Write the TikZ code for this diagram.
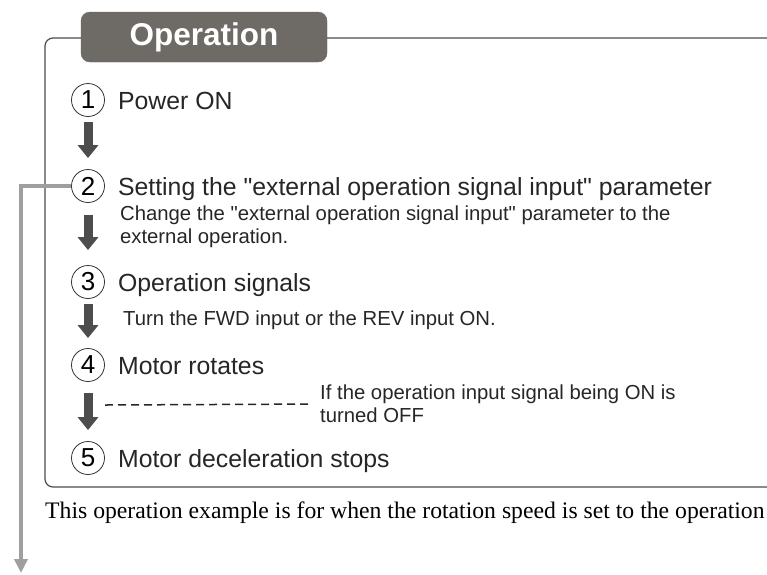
\documentclass[tikz,border=0pt]{standalone}
\usepackage{fontspec}
\setmainfont{Liberation Serif}
\setsansfont{Liberation Sans}[Ligatures=TeXOff]
\usetikzlibrary{positioning,arrows.meta}
\definecolor{tabgray}{HTML}{6E6A66}
\definecolor{inkgray}{HTML}{4D4D4D}
\tikzstyle{numcircle}+=[circle,draw=black!80,line width=0.8pt,minimum size=33pt,inner sep=0pt,font=\sffamily\fontsize{26}{26}\selectfont]
\tikzstyle{bigtext}+=[inner sep=0pt,text height=18pt,text depth=0pt,font=\sffamily\fontsize{24.8}{29}\selectfont,text=black!85]
\tikzstyle{subtext}+=[inner sep=0pt,align=left,font=\sffamily\fontsize{20.3}{23}\selectfont,text=black!85]
\tikzstyle{flowarrow}+=[draw=inkgray,line width=9pt,-{Triangle[length=13pt,width=20pt]}]
\tikzstyle{sidearrow}+=[draw=gray!75,line width=3.5pt,-{Triangle[length=14pt,width=13pt]}]
\tikzstyle{boxline}+=[draw=black!70,line width=1.2pt,rounded corners=8pt]
\tikzstyle{noteline}+=[draw=black!85,line width=1.5pt,dash pattern=on 8pt off 5pt]
\tikzstyle{headtab}+=[rounded corners=9pt,fill=tabgray,draw=black!60,minimum width=246pt,minimum height=50pt,text=white,font=\sffamily\bfseries\fontsize{31.5}{31.5}\selectfont]

\begin{document}
\begin{tikzpicture}[x=1pt,y=-1pt]
  \useasboundingbox (0,0) rectangle (767,574);
  \draw[boxline] (780,38) -- (45,38) -- (45,487) -- (780,487);
  \node[headtab] (head) at (204,37) {Operation};
  \node[numcircle] (s1) at (88,100) {1};
  \node[numcircle] (s2) at (88,186) {2};
  \node[numcircle] (s3) at (88,282) {3};
  \node[numcircle] (s4) at (88,365) {4};
  \node[numcircle] (s5) at (88,458) {5};
  \node[bigtext,right=13pt of s1] (t1) {Power ON};
  \node[bigtext,right=13pt of s2] (t2) {Setting the "external operation signal input" parameter};
  \node[bigtext,right=13pt of s3] (t3) {Operation signals};
  \node[bigtext,right=13pt of s4] (t4) {Motor rotates};
  \node[bigtext,right=13pt of s5] (t5) {Motor deceleration stops};
  \node[subtext,below right=10pt and 2pt of t2.south west] (n2) {Change the "external operation signal input" parameter to the\\external operation.};
  \node[subtext,below right=19pt and 5pt of t3.south west] (n3) {Turn the FWD input or the REV input ON.};
  \node[subtext,anchor=west] (n4) at (320,404) {If the operation input signal being ON is\\turned OFF};
  \coordinate (d4) at (105,405);
  \coordinate (low) at (21,573);
  \draw[flowarrow,shorten <=5pt,shorten >=11pt] (s1) -- (s2);
  \draw[flowarrow,shorten <=12pt,shorten >=15pt] (s2) -- (s3);
  \draw[flowarrow,shorten <=5pt,shorten >=10pt] (s3) -- (s4);
  \draw[flowarrow,shorten <=11pt,shorten >=11pt] (s4) -- (s5);
  \draw[noteline,shorten >=8pt] (d4) -- (n4.west);
  \draw[sidearrow] (s2.west) -| (low);
  \node[anchor=base west,inner sep=0pt,font=\rmfamily\fontsize{23.7}{27}\selectfont] (foot) at (45,518) {This operation example is for when the rotation speed is set to the operation};
\end{tikzpicture}
\end{document}
